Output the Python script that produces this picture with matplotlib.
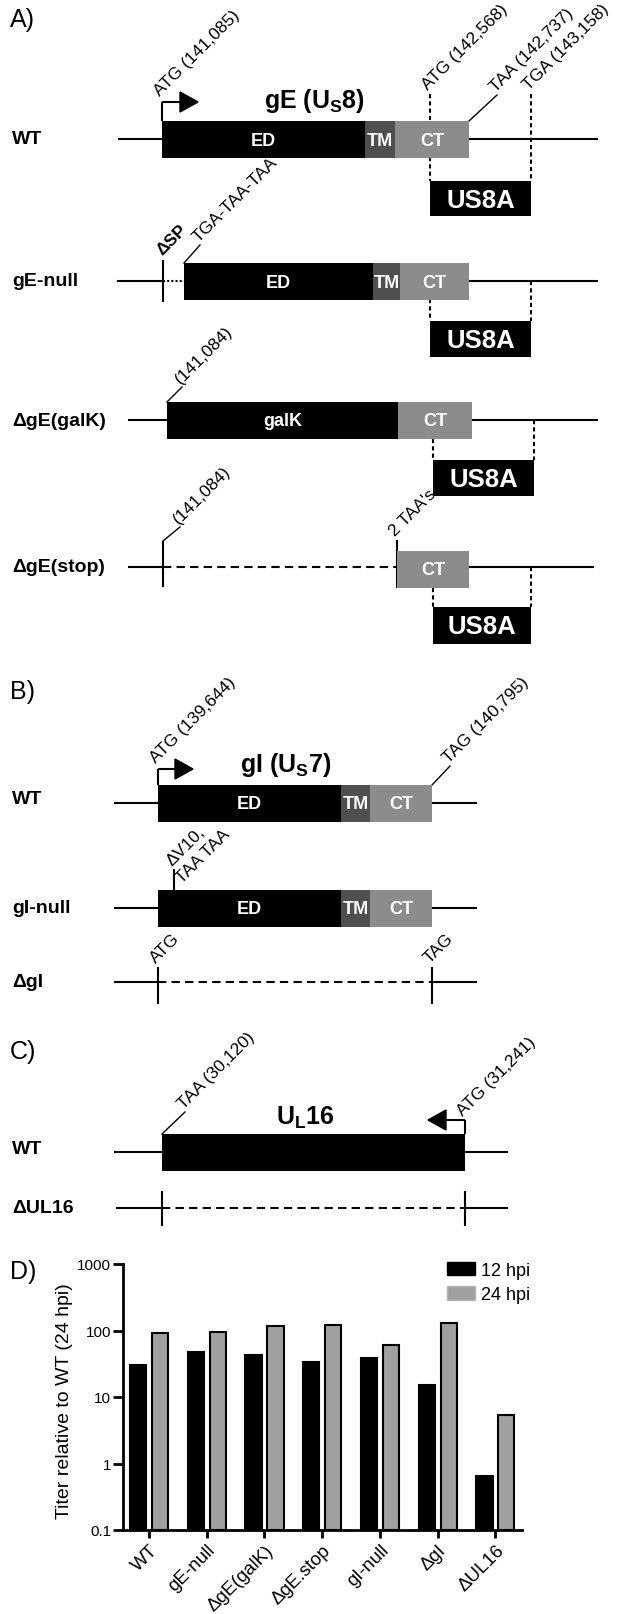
import numpy as np
import matplotlib
matplotlib.use("Agg")
from matplotlib import pyplot as plt
from matplotlib.patches import Rectangle, Polygon, Patch
from matplotlib.ticker import NullLocator

plt.rcParams['font.family'] = ['Liberation Sans', 'DejaVu Sans']
plt.rcParams['mathtext.fontset'] = 'custom'
plt.rcParams['mathtext.rm'] = 'Liberation Sans'
plt.rcParams['mathtext.bf'] = 'Liberation Sans:bold'

# panel D data
strains = ["WT", "gE-null", "ΔgE(galK)", "ΔgE.stop", "gI-null", "ΔgI", "ΔUL16"]
titer_12 = [30, 48, 43, 34, 39, 15, 0.66]
titer_24 = [93, 96, 118, 123, 60, 130, 5.3]
series = ["12 hpi", "24 hpi"]

TMC = "#4f4f4f"
CTC = "#8c8c8c"
GREY = "#a0a0a0"
LW = 1.5
FS_TAG = 12.5

fig = plt.figure(figsize=(6.19, 16.15), dpi=100)

# schematic panels drawn in pixel coordinates
d = fig.add_axes([0, 0, 1, 1])
d.set_xlim(0, 619)
d.set_ylim(1615, 0)
d.axis("off")


def line(x0, x1, y, ls="-"):
    d.plot([x0, x1], [y, y], color="k", lw=LW, ls=ls, solid_capstyle="butt")


def vline(x, y0, y1, ls="-"):
    d.plot([x, x], [y0, y1], color="k", lw=LW, ls=ls, solid_capstyle="butt")


def block(x0, x1, yc, color, text=None, fs=13, h=18.5):
    d.add_patch(Rectangle((x0, yc - h), x1 - x0, 2 * h, facecolor=color, edgecolor="none", zorder=3))
    if text:
        d.text((x0 + x1) / 2, yc + 1, text, color="w", fontsize=fs, fontweight="bold",
               ha="center", va="center", zorder=4)


def tag(x, y, s, fs=FS_TAG, **kw):
    d.text(x, y, s, fontsize=fs, rotation=45, rotation_mode="anchor", ha="left", va="bottom", **kw)


def row_label(y, s):
    d.text(12, y, s, fontsize=14, fontweight="bold", ha="left", va="center")


def panel(y, s):
    d.text(10, y, s, fontsize=18, ha="left", va="center")


def us8a(x0, x1, ytop, ybot):
    block(x0, x1, (ytop + ybot) / 2, "k", "US8A", fs=18.5, h=(ybot - ytop) / 2)


def arrow(x, ybox, ys, xtip, direction=1):
    vline(x, ybox, ys)
    base = xtip - 18 * direction
    line(x, base, ys)
    d.add_patch(Polygon([[base, ys - 10], [base, ys + 10], [xtip, ys]], closed=True, color="k"))


DOT = (0, (2, 1.5))
DASH = (0, (4, 2.5))

# ---------------- A) gE
panel(20, "A)")
row_label(140, "WT")
line(118, 598, 140)
block(162, 365, 140, "k", "ED")
block(365, 395, 140, TMC, "TM")
block(395, 469, 140, CTC, "CT")
arrow(162, 122, 103, 198)
d.text(314, 101, r"gE (U$_{\mathbf{S}}$8)", fontsize=18, fontweight="bold", ha="center", va="center")
tag(162, 99, "ATG (141,085)")
vline(430, 95, 122, DOT)
vline(430, 158, 182, DOT)
tag(430, 93, "ATG (142,568)")
d.plot([469, 497], [122, 96], color="k", lw=1)
tag(498, 95, "TAA (142,737)")
vline(531, 95, 182, DOT)
tag(531, 93, "TGA (143,158)")
us8a(430, 531, 182, 217)

row_label(282, "gE-null")
line(117, 163, 282)
vline(163, 261, 303)
line(163, 184, 282, (0, (1, 1)))
block(184, 373, 282, "k", "ED")
block(373, 400, 282, TMC, "TM")
block(400, 469, 282, CTC, "CT")
line(469, 598, 282)
tag(164, 258, "ΔSP", fontweight="bold")
d.plot([184, 200], [264, 246], color="k", lw=1)
tag(201, 245, "TGA-TAA-TAA")
vline(430, 300, 322, DOT)
vline(531, 282, 322, DOT)
us8a(430, 531, 322, 358)

row_label(421, "ΔgE(galK)")
line(128, 598, 421)
block(167, 398, 421, "k", "galK")
block(398, 472, 421, CTC, "CT")
d.plot([167, 182], [403, 388], color="k", lw=1)
tag(183, 387, "(141,084)")
vline(433, 440, 461, DOT)
vline(534, 421, 461, DOT)
us8a(433, 534, 461, 497)

row_label(568, "ΔgE(stop)")
line(128, 163, 568)
vline(163, 542, 588)
line(163, 397, 568, DASH)
vline(397, 541, 589)
block(397, 469, 570, CTC, "CT")
line(469, 594, 568)
d.plot([163, 180], [542, 528], color="k", lw=1)
tag(181, 527, "(141,084)")
tag(397, 539, "2 TAA's")
vline(433, 589, 608, DOT)
vline(531, 568, 608, DOT)
us8a(433, 531, 608, 645)

# ---------------- B) gI
panel(692, "B)")
row_label(800, "WT")
line(114, 477, 804)
block(158, 341, 804, "k", "ED")
block(341, 370, 804, TMC, "TM")
block(370, 432, 804, CTC, "CT")
arrow(158, 786, 770, 193)
d.text(286, 765, r"gI (U$_{\mathbf{S}}$7)", fontsize=18, fontweight="bold", ha="center", va="center")
tag(158, 766, "ATG (139,644)")
d.plot([432, 450], [786, 767], color="k", lw=1)
tag(451, 766, "TAG (140,795)")

row_label(909, "gI-null")
line(114, 477, 909)
block(158, 341, 909, "k", "ED")
block(341, 370, 909, TMC, "TM")
block(370, 432, 909, CTC, "CT")
vline(174, 891, 870)
d.text(172, 867, "ΔV10,", fontsize=FS_TAG, rotation=45, rotation_mode="anchor", ha="left", va="baseline")
d.text(182, 884, "TAA TAA", fontsize=FS_TAG, rotation=45, rotation_mode="anchor", ha="left", va="baseline")

row_label(983, "ΔgI")
line(114, 158, 983)
vline(158, 968, 1005)
line(158, 432, 983, DASH)
vline(432, 968, 1005)
line(432, 477, 983)
tag(158, 966, "ATG")
tag(432, 966, "TAG")

# ---------------- C) UL16
panel(1052, "C)")
row_label(1150, "WT")
line(114, 508, 1153)
block(162, 465, 1153, "k")
arrow(465, 1135, 1121, 428, direction=-1)
d.text(305, 1118, r"U$_{\mathbf{L}}$16", fontsize=18, fontweight="bold", ha="center", va="center")
d.plot([162, 185], [1135, 1113], color="k", lw=1)
tag(186, 1112, "TAA (30,120)")
tag(465, 1119, "ATG (31,241)")

row_label(1209, "ΔUL16")
line(116, 162, 1209)
vline(162, 1192, 1227)
line(162, 465, 1209, DASH)
vline(465, 1192, 1227)
line(465, 508, 1209)

# ---------------- D) titers
panel(1272, "D)")
ax = fig.add_axes([123 / 619, 84 / 1615, 399 / 619, 266 / 1615])
ax.set_facecolor("none")
x = np.arange(len(strains))
ax.bar(x - 0.19, np.array(titer_12) - 0.1, bottom=0.1, width=0.28, color="k", edgecolor="k", lw=1.5)
ax.bar(x + 0.19, np.array(titer_24) - 0.1, bottom=0.1, width=0.28, color=GREY, edgecolor="k", lw=1.5)
ax.set_yscale("log")
ax.set_ylim(0.1, 1000)
ax.set_xlim(-0.45, 6.46)
ax.set_yticks([0.1, 1, 10, 100, 1000])
ax.set_yticklabels(["0.1", "1", "10", "100", "1000"], fontsize=11)
ax.yaxis.set_minor_locator(NullLocator())
ax.set_xticks(x)
ax.set_xticklabels(strains, fontsize=13.5, rotation=45, ha="right", rotation_mode="anchor")
ax.tick_params(axis="y", width=2, length=7, pad=1.5)
ax.tick_params(axis="x", width=2, length=6, pad=2)
for s in ["top", "right"]:
    ax.spines[s].set_visible(False)
for s in ["left", "bottom"]:
    ax.spines[s].set_linewidth(2)
ax.set_ylabel("Titer relative to WT (24 hpi)", fontsize=14)
ax.yaxis.set_label_coords(-0.125, 0.49)
handles = [Patch(facecolor="k", edgecolor="k"), Patch(facecolor=GREY, edgecolor="#b5b5b5")]
fig.legend(handles, series, loc="upper left", bbox_to_anchor=(447 / 619, 1 - 1263 / 1615),
           frameon=False, fontsize=13, handlelength=1.55, handleheight=0.75,
           handletextpad=0.35, labelspacing=0.4, borderpad=0, borderaxespad=0)

fig.savefig("out.png", dpi=100)
